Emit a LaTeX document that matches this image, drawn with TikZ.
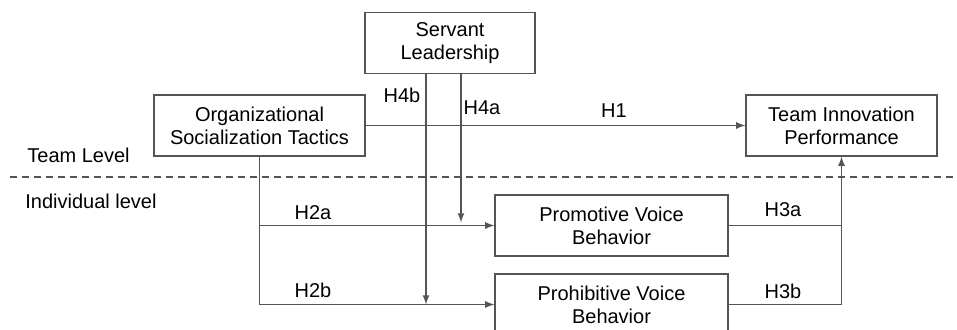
\documentclass[tikz,border=0pt]{standalone}
\usepackage{fontspec}
\setmainfont{Liberation Sans}
\usetikzlibrary{positioning}
\definecolor{linegray}{RGB}{85,85,85}

\begin{document}
\begin{tikzpicture}
    [
    x=0.5pt, y=-0.5pt,
    var/.style={rectangle,draw=linegray,line width=0.6pt,align=center,inner sep=0pt,minimum height=30.5pt,font=\fontsize{10}{11.5}\selectfont},
    hyp/.style={inner sep=0pt,font=\fontsize{10}{12}\selectfont},
    link/.style={draw=linegray,line width=0.6pt},
    ]
    \useasboundingbox (0,0) rectangle (957,329);

    \node (sl) at (450,43) [var, minimum width=85pt] {Servant\\Leadership};
    \node (ost) at (259.5,125.5) [var, minimum width=105.5pt] {Organizational\\Socialization Tactics};
    \node (tip) at (841.5,125.5) [var, minimum width=95.5pt] {Team Innovation\\Performance};
    \node (pvb) at (611.5,225.5) [var, minimum width=116.5pt] {Promotive Voice\\Behavior};
    \node (hvb) at (611.5,304.5) [var, minimum width=116.5pt] {Prohibitive Voice\\Behavior};

    \node (team) at (27,155) [hyp, anchor=west] {Team Level};
    \node (indiv) at (25,201) [hyp, anchor=west] {Individual level};
    \coordinate (dl) at (10,177);
    \coordinate (dr) at (957,177);
    \draw [link, dash pattern=on 3.5pt off 2.5pt] (dl) to (dr);

    \draw [link, -latex] (ost) to (tip);
    \coordinate (split) at (ost.south |- pvb.west);
    \draw [link, -latex] (ost.south) |- (hvb.west);
    \draw [link, -latex] (split) to (pvb.west);
    \draw [link, -latex] ([xshift=-12pt]sl.south) to ([xshift=-12pt]sl.south |- hvb.west);
    \draw [link, -latex] ([xshift=5.5pt]sl.south) to ([xshift=5.5pt,yshift=1.5pt]sl.south |- pvb.west);
    \draw [link, -latex] (hvb.east) -| (tip.south);
    \draw [link] (pvb.east) to (pvb.east -| tip.south);

    \node (h1) at (614,111) [hyp] {H1};
    \node (h4b) at (402,95) [hyp] {H4b};
    \node (h4a) at (482,108) [hyp] {H4a};
    \node (h2a) at (313,213) [hyp] {H2a};
    \node (h2b) at (313,290) [hyp] {H2b};
    \node (h3a) at (783,210) [hyp] {H3a};
    \node (h3b) at (783,291) [hyp] {H3b};
  \end{tikzpicture}
\end{document}
